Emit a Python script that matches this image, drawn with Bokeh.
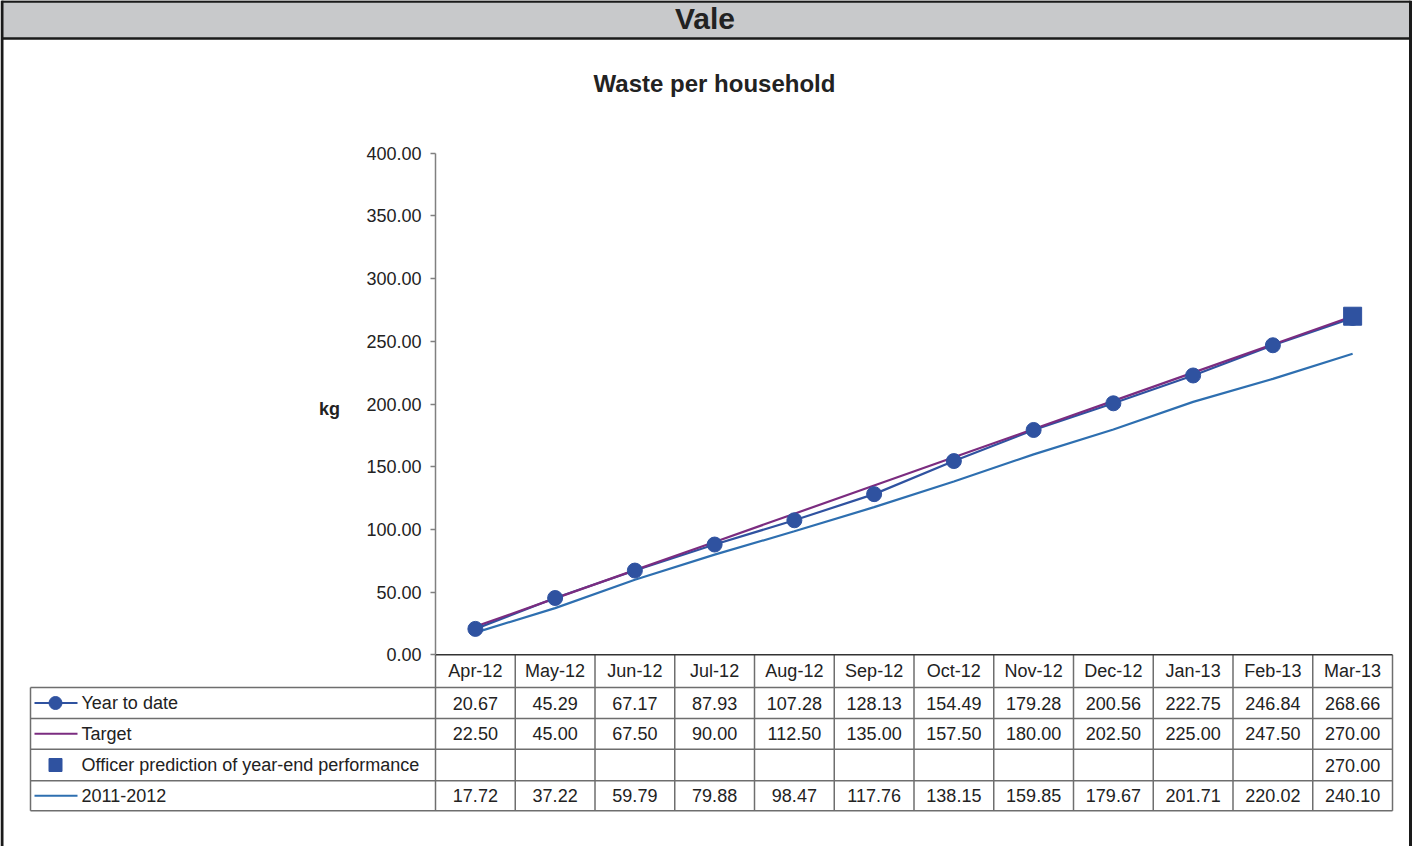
from bokeh.plotting import figure
from bokeh.models import Range1d, LinearAxis, FixedTicker, NumeralTickFormatter
from bokeh.core.properties import value
from bokeh.embed import file_html
from bokeh.resources import INLINE

# ---------------- data ----------------
months = ["Apr-12", "May-12", "Jun-12", "Jul-12", "Aug-12", "Sep-12",
          "Oct-12", "Nov-12", "Dec-12", "Jan-13", "Feb-13", "Mar-13"]
year_to_date = [20.67, 45.29, 67.17, 87.93, 107.28, 128.13,
                154.49, 179.28, 200.56, 222.75, 246.84, 268.66]
target = [22.50, 45.00, 67.50, 90.00, 112.50, 135.00,
          157.50, 180.00, 202.50, 225.00, 247.50, 270.00]
officer_prediction = [None, None, None, None, None, None,
                      None, None, None, None, None, 270.00]
last_year = [17.72, 37.22, 59.79, 79.88, 98.47, 117.76,
             138.15, 159.85, 179.67, 201.71, 220.02, 240.10]
series_names = ["Year to date", "Target",
                "Officer prediction of year-end performance", "2011-2012"]
y_ticks = [0, 50, 100, 150, 200, 250, 300, 350, 400]
header_text = "Vale"
chart_title = "Waste per household"
y_label = "kg"

# ---------------- layout helpers ----------------
W, H = 1412, 846
OFF = 8                      # page margin
X0, CW = 443.0, 79.75        # left edge of month columns, column width (px)
Y0PX, PXU = 662.3, 501.6 / 400.0


def ux(px):
    return (px - X0) / CW


def uy(py):
    return (Y0PX - py) / PXU


FONT = value("Liberation Sans")
TXT = "#222222"
GRID = "#808080"
DARK = "#1a1a1a"
C_YTD = "#2f52a0"
C_TGT = "#7b2c80"
C_PREV = "#2e6fb0"

p = figure(width=W, height=H, output_backend="svg", toolbar_location=None,
           x_range=Range1d(ux(OFF), ux(OFF + W)),
           y_range=Range1d(uy(OFF + H), uy(OFF)),
           x_axis_type=None, y_axis_type=None, min_border=0,
           background_fill_color="white", border_fill_color="white")
p.outline_line_color = None
p.grid.visible = False

n = len(months)
xs = [i + 0.5 for i in range(n)]

# ---------------- outer frame & header ----------------
p.quad(left=[ux(9)], right=[ux(1418)], top=[uy(9)], bottom=[uy(46)],
       fill_color="#c8c9cb", line_color=None)
p.segment(x0=[ux(9), ux(9)], x1=[ux(1418), ux(1418)], y0=[uy(9), uy(46)],
          y1=[uy(9), uy(46)], line_color=DARK, line_width=2.5)
p.segment(x0=[ux(9.5), ux(1418)], x1=[ux(9.5), ux(1418)],
          y0=[uy(OFF), uy(OFF)], y1=[uy(OFF + H), uy(OFF + H)],
          line_color=DARK, line_width=3)
p.text(x=[ux(712.5)], y=[uy(26)], text=[header_text], text_font=FONT,
       text_font_size="30px", text_font_style="bold", text_color=TXT,
       text_align="center", text_baseline="middle")
p.text(x=[ux(722)], y=[uy(91)], text=[chart_title], text_font=FONT,
       text_font_size="24px", text_font_style="bold", text_color=TXT,
       text_align="center", text_baseline="middle")
p.text(x=[ux(337)], y=[uy(416)], text=[y_label], text_font=FONT,
       text_font_size="18px", text_font_style="bold", text_color=TXT,
       text_align="center", text_baseline="middle")

# ---------------- y axis ----------------
yax = LinearAxis(fixed_location=0, bounds=(0, 400),
                 ticker=FixedTicker(ticks=y_ticks),
                 formatter=NumeralTickFormatter(format="0.00"))
yax.axis_line_color = GRID
yax.axis_line_width = 1.5
yax.major_tick_line_color = GRID
yax.major_tick_line_width = 1.5
yax.major_tick_out = 5
yax.major_tick_in = 0
yax.minor_tick_out = 0
yax.minor_tick_in = 0
yax.major_label_standoff = 9
yax.major_label_text_font = "Liberation Sans"
yax.major_label_text_font_size = "18px"
yax.major_label_text_color = TXT
p.add_layout(yax, "left")

# ---------------- data table grid ----------------
row_lines = [695, 726, 756.7, 788.3, 818.3]
p.segment(x0=[ux(38)] * len(row_lines), x1=[n] * len(row_lines),
          y0=[uy(r) for r in row_lines], y1=[uy(r) for r in row_lines],
          line_color="#6e6e6e", line_width=1.5)
p.segment(x0=list(range(1, n + 1)), x1=list(range(1, n + 1)),
          y0=[0] * n, y1=[uy(818.3)] * n, line_color="#6e6e6e", line_width=1.5)
p.segment(x0=[0, ux(38)], x1=[0, ux(38)], y0=[0, uy(695)],
          y1=[uy(818.3), uy(818.3)], line_color="#6e6e6e", line_width=1.5)
p.segment(x0=[0], x1=[n], y0=[0], y1=[0], line_color="#333333", line_width=1.5)

# month header
p.text(x=xs, y=[uy(678.5)] * n, text=months, text_font=FONT,
       text_font_size="18px", text_color=TXT, text_align="center",
       text_baseline="middle")

row_centres = [710.5, 741.3, 772.5, 803.3]
all_series = [year_to_date, target, officer_prediction, last_year]
for rc, ser in zip(row_centres, all_series):
    vx = [x for x, v in zip(xs, ser) if v is not None]
    vt = ["%.2f" % v for v in ser if v is not None]
    p.text(x=vx, y=[uy(rc)] * len(vx), text=vt, text_font=FONT,
           text_font_size="18px", text_color=TXT, text_align="center",
           text_baseline="middle")

# legend keys in table
for rc, name in zip(row_centres, series_names):
    p.text(x=[ux(89)], y=[uy(rc)], text=[name], text_font=FONT,
           text_font_size="18px", text_color=TXT, text_align="left",
           text_baseline="middle")
p.segment(x0=[ux(42)], x1=[ux(85)], y0=[uy(710.5)], y1=[uy(710.5)],
          line_color=C_YTD, line_width=2)
p.scatter(x=[ux(63)], y=[uy(710.5)], size=13, marker="circle",
          fill_color=C_YTD, line_color=C_YTD)
p.segment(x0=[ux(42)], x1=[ux(85)], y0=[uy(741.3)], y1=[uy(741.3)],
          line_color=C_TGT, line_width=2)
p.scatter(x=[ux(63)], y=[uy(772.5)], size=13, marker="square",
          fill_color=C_YTD, line_color=C_YTD)
p.segment(x0=[ux(42)], x1=[ux(85)], y0=[uy(803.3)], y1=[uy(803.3)],
          line_color=C_PREV, line_width=2)

# ---------------- series ----------------
p.line(xs, last_year, line_color=C_PREV, line_width=2.2)
p.line(xs, year_to_date, line_color=C_YTD, line_width=2.2)
p.line(xs, target, line_color=C_TGT, line_width=2.2)
p.scatter(xs, year_to_date, size=15, marker="circle",
          fill_color=C_YTD, line_color=C_YTD)
ox = [x for x, v in zip(xs, officer_prediction) if v is not None]
oy = [v for v in officer_prediction if v is not None]
p.scatter(ox, oy, size=18, marker="square", fill_color=C_YTD, line_color=C_YTD)

open("out.html", "w").write(file_html(p, INLINE))
